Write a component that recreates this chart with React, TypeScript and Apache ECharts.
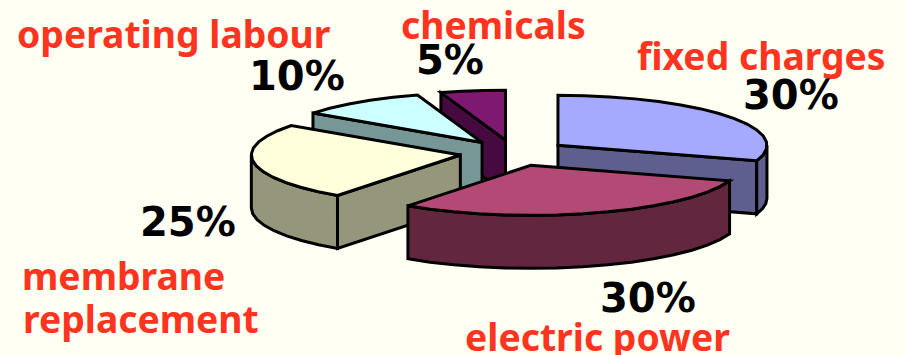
import React, { useEffect, useRef } from "react";
import * as echarts from "echarts";

// Cost breakdown, in percent, clockwise from twelve o'clock
const categories = ["fixed charges", "electric power", "membrane replacement", "operating labour", "chemicals"];
const shares = [30, 30, 25, 10, 5];
const topColors = ["#A6AAFF", "#B24A75", "#FFFFDC", "#CCFFFF", "#7E1870"];
const wallColors = ["#5F5F8F", "#63263F", "#96967A", "#779797", "#470A40"];
// Slices are painted back to front
const paintOrder = [4, 3, 0, 2, 1];

const CX = 514;
const CY = 153;
const RX = 209;
const RY = 50;
const DEPTH = 53;
const EXPLODE = 0.26;
const ARC_STEP = 7;
const LINE = 3;

const INK = "#000000";
const RED = "#FF3420";
const LABEL_FONT = '"Noto Sans", sans-serif';
const VALUE_FONT = '"DejaVu Sans", sans-serif';
const LABEL_SIZE = 37.3;
const VALUE_SIZE = 40;

const rim = (deg: number): [number, number] => {
  const a = (deg * Math.PI) / 180;
  return [RX * Math.sin(a), -RY * Math.cos(a)];
};

const arcPoints = (from: number, to: number, ox: number, oy: number) => {
  const pts: number[][] = [];
  const n = Math.max(1, Math.round((to - from) / ARC_STEP));
  for (let i = 0; i <= n; i++) {
    const [x, y] = rim(from + ((to - from) * i) / n);
    pts.push([ox + x, oy + y]);
  }
  return pts;
};

const total = shares.reduce((s, v) => s + v, 0);
const startAngles = shares.map((_, i) => (shares.slice(0, i).reduce((s, v) => s + v, 0) / total) * 360);

const renderSlice = (_: unknown, api: any) => {
  const slice = api.value(0) as number;
  const value = api.value(1) as number;
  const start = api.value(2) as number;
  const end = start + (value / total) * 360;
  const [mx, my] = rim((start + end) / 2);
  const ox = CX + EXPLODE * mx;
  const oy = CY + EXPLODE * my;
  const apex = [ox, oy];
  const children: any[] = [];
  const poly = (points: number[][], fill: string) =>
    children.push({
      type: "polygon",
      shape: { points },
      style: { fill, stroke: INK, lineWidth: LINE, lineJoin: "miter" },
    });
  const wall = wallColors[slice];
  const radialWall = (deg: number) => {
    const [x, y] = rim(deg);
    const edge = [ox + x, oy + y];
    poly([apex, edge, [edge[0], edge[1] + DEPTH], [apex[0], apex[1] + DEPTH]], wall);
  };
  // A side wall shows only when its outward face turns towards the viewer
  if (Math.sin((start * Math.PI) / 180) < -0.01) radialWall(start);
  if (Math.sin((end * Math.PI) / 180) > 0.01) radialWall(end);
  const frontFrom = Math.max(start, 90);
  const frontTo = Math.min(end, 270);
  if (frontTo > frontFrom) {
    const upper = arcPoints(frontFrom, frontTo, ox, oy);
    const lower = upper.map(([x, y]) => [x, y + DEPTH]).reverse();
    poly([...upper, ...lower], wall);
  }
  poly([apex, ...arcPoints(start, end, ox, oy)], topColors[slice]);
  return { type: "group", children };
};

const textEl = (text: string, x: number, y: number, fill: string, font: string, size: number) => ({
  type: "text",
  x,
  y,
  silent: true,
  style: { text, fill, fontFamily: font, fontWeight: "bold", fontSize: size, textAlign: "left", textVerticalAlign: "middle" },
});

export default function App() {
  const ref = useRef<HTMLDivElement>(null);
  useEffect(() => {
    document.body.style.margin = "0";
    const chart = echarts.init(ref.current!, null, { renderer: "svg" });
    const pct = (i: number) => `${shares[i]}%`;
    chart.setOption({
      animation: false,
      backgroundColor: "#FFFFF3",
      series: [
        {
          type: "custom",
          coordinateSystem: "none",
          silent: true,
          renderItem: renderSlice,
          data: paintOrder.map((i) => [i, shares[i], startAngles[i]]),
        },
      ],
      graphic: [
        textEl(categories[3], 17, 33, RED, LABEL_FONT, LABEL_SIZE),
        textEl(categories[4], 401, 24, RED, LABEL_FONT, LABEL_SIZE),
        textEl(categories[0], 637, 55, RED, LABEL_FONT, LABEL_SIZE),
        textEl("membrane", 22, 275, RED, LABEL_FONT, LABEL_SIZE),
        textEl("replacement", 23, 318, RED, LABEL_FONT, LABEL_SIZE),
        textEl(categories[1], 465, 336, RED, LABEL_FONT, LABEL_SIZE),
        textEl(pct(3), 249, 76, INK, VALUE_FONT, VALUE_SIZE),
        textEl(pct(4), 416, 60, INK, VALUE_FONT, VALUE_SIZE),
        textEl(pct(0), 743, 95, INK, VALUE_FONT, VALUE_SIZE),
        textEl(pct(2), 140, 222, INK, VALUE_FONT, VALUE_SIZE),
        textEl(pct(1), 600, 298, INK, VALUE_FONT, VALUE_SIZE),
      ],
    });
    return () => chart.dispose();
  }, []);
  return <div ref={ref} style={{ width: 906, height: 355 }} />;
}
